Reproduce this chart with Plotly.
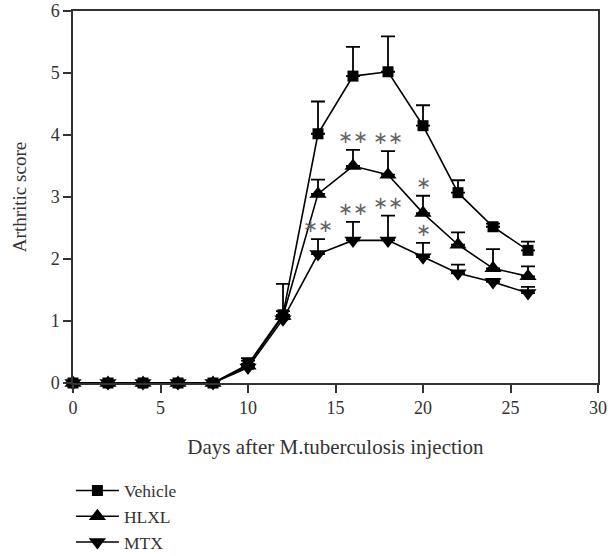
import plotly.graph_objects as go

days = [0, 2, 4, 6, 8, 10, 12, 14, 16, 18, 20, 22, 24, 26]
vehicle = [0, 0, 0, 0, 0, 0.30, 1.10, 4.02, 4.95, 5.02, 4.15, 3.07, 2.52, 2.14]
vehicle_err = [0, 0, 0, 0, 0, 0.10, 0.50, 0.52, 0.47, 0.57, 0.33, 0.20, 0.05, 0.14]
hlxl = [0, 0, 0, 0, 0, 0.28, 1.08, 3.05, 3.50, 3.36, 2.74, 2.23, 1.85, 1.72]
hlxl_err = [0, 0, 0, 0, 0, 0.08, 0.08, 0.23, 0.26, 0.38, 0.28, 0.20, 0.31, 0.16]
mtx = [0, 0, 0, 0, 0, 0.25, 1.03, 2.08, 2.30, 2.30, 2.03, 1.77, 1.63, 1.45]
mtx_err = [0, 0, 0, 0, 0, 0.06, 0.06, 0.24, 0.30, 0.40, 0.23, 0.14, 0.05, 0.10]

# significance marks: (day, y of cap top, text)
sig_x = [16, 18, 20, 14, 16, 18, 20]
sig_y = [3.76, 3.74, 3.02, 2.32, 2.60, 2.70, 2.26]
sig_text = ["∗∗", "∗∗", "∗", "∗∗", "∗∗", "∗∗", "∗"]

FONT = "Liberation Serif"

fig = go.Figure()

def add(name, y, err, symbol, size):
    fig.add_trace(go.Scatter(
        x=days, y=y, name=name, mode="lines+markers",
        line=dict(color="black", width=1.6),
        marker=dict(symbol=symbol, size=size, color="black"),
        error_y=dict(type="data", symmetric=False, array=err,
                     arrayminus=[0] * len(err), color="black",
                     thickness=1.8, width=7),
        cliponaxis=False,
    ))

add("Vehicle", vehicle, vehicle_err, "square", 11)
add("HLXL", hlxl, hlxl_err, "triangle-up", 15)
add("MTX", mtx, mtx_err, "triangle-down", 15)

for xv, yv, t in zip(sig_x, sig_y, sig_text):
    fig.add_annotation(x=xv, y=yv, text=t, showarrow=False,
                       xanchor="center", yanchor="bottom", yshift=1,
                       font=dict(family="DejaVu Sans", size=18, color="#666666"))

fig.update_layout(
    width=614, height=556,
    margin=dict(l=73, r=16, t=11, b=173, autoexpand=False),
    paper_bgcolor="white", plot_bgcolor="white",
    font=dict(family=FONT, size=18, color="#333333"),
    showlegend=True,
    legend=dict(x=-0.004, y=-0.241, xanchor="left", yanchor="top",
                font=dict(family=FONT, size=17.5, color="#333333"),
                tracegroupgap=0, itemwidth=43, bgcolor="rgba(0,0,0,0)"),
)
fig.update_xaxes(
    range=[0, 30], tickvals=[0, 5, 10, 15, 20, 25, 30], automargin=False,
    showline=True, linecolor="#333333", linewidth=1.5, mirror=True,
    ticks="outside", ticklen=8, tickwidth=1.5, tickcolor="#333333",
    showgrid=False, zeroline=False,
    title=dict(text="Days after M.tuberculosis injection",
               font=dict(family=FONT, size=21), standoff=22),
    tickfont=dict(family=FONT, size=18),
)
fig.update_yaxes(
    range=[0, 6], tickvals=[0, 1, 2, 3, 4, 5, 6], automargin=False,
    showline=True, linecolor="#333333", linewidth=1.5, mirror=True,
    ticks="outside", ticklen=8, tickwidth=1.5, tickcolor="#333333",
    showgrid=False, zeroline=False,
    title=dict(text="Arthritic score", font=dict(family=FONT, size=19), standoff=19),
    tickfont=dict(family=FONT, size=18),
)

fig.write_html("out.html", config={"displayModeBar": False},
               post_script="document.body.style.margin='0px';")
